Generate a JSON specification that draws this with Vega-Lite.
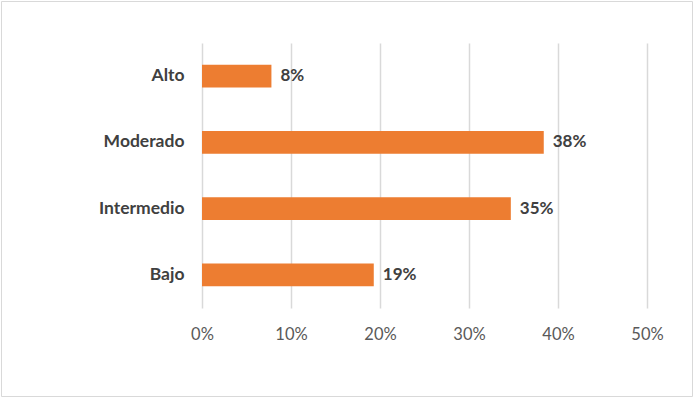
{
  "$schema": "https://vega.github.io/schema/vega-lite/v6.json",
  "autosize": "none",
  "padding": {"left": 1, "top": 1, "right": 3, "bottom": 1},
  "width": 691,
  "height": 395,
  "background": "white",
  "config": {
    "view": {"stroke": "#D9D9D9", "strokeWidth": 1},
    "font": "Lato"
  },
  "data": {
    "values": [
      {"nivel": "Alto", "valor": 0.078},
      {"nivel": "Moderado", "valor": 0.384},
      {"nivel": "Intermedio", "valor": 0.347},
      {"nivel": "Bajo", "valor": 0.193}
    ]
  },
  "encoding": {
    "y": {
      "field": "nivel",
      "type": "nominal",
      "sort": ["Alto", "Moderado", "Intermedio", "Bajo"],
      "scale": {"range": [42, 307], "paddingInner": 0.66, "paddingOuter": 0.33},
      "axis": {
        "title": null,
        "orient": "left",
        "offset": -201,
        "domain": false,
        "ticks": false,
        "tickSize": 0,
        "grid": false,
        "labelPadding": 18,
        "labelFont": "Lato",
        "labelFontSize": 17.5,
        "labelFontWeight": "bold",
        "labelColor": "#404040",
        "labelBaseline": "middle"
      }
    },
    "x": {
      "field": "valor",
      "type": "quantitative",
      "scale": {"domain": [0, 0.5], "range": [201, 646], "nice": false, "zero": true},
      "axis": {
        "title": null,
        "orient": "top",
        "offset": -307,
        "values": [0, 0.1, 0.2, 0.3, 0.4, 0.5],
        "format": ".0%",
        "domain": false,
        "ticks": false,
        "tickSize": 0,
        "grid": true,
        "gridColor": "#D9D9D9",
        "gridWidth": 1.5,
        "labelPadding": -26,
        "labelBaseline": "middle",
        "labelFlush": false,
        "labelOverlap": false,
        "labelFont": "Lato",
        "labelFontSize": 16.5,
        "labelColor": "#595959"
      }
    }
  },
  "layer": [
    {"mark": {"type": "bar", "color": "#ED7D31"}},
    {
      "mark": {
        "type": "text",
        "align": "left",
        "baseline": "middle",
        "dx": 9,
        "font": "Lato",
        "fontSize": 17,
        "fontWeight": "bold",
        "color": "#404040"
      },
      "encoding": {
        "text": {"field": "valor", "type": "quantitative", "format": ".0%"}
      }
    }
  ]
}
